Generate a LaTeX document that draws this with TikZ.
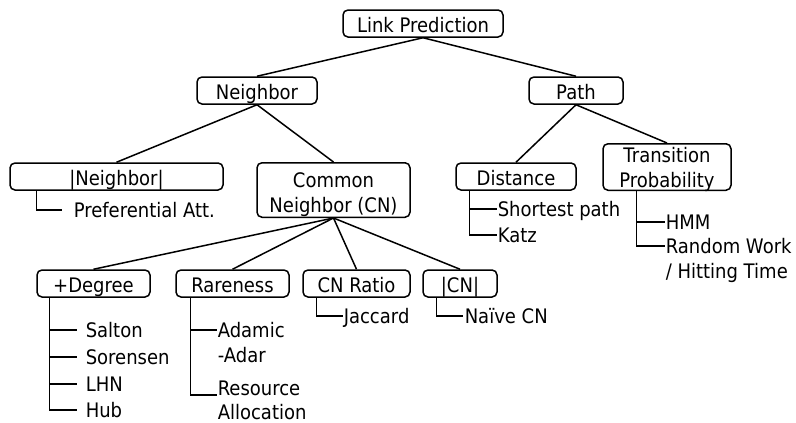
\documentclass[tikz,border=0pt]{standalone}
\usepackage{fontspec}
\setmainfont[FakeStretch=0.9]{DejaVu Sans}
\usepackage{tikz}

\begin{document}
\begin{tikzpicture}[x=1pt,y=-1pt,line width=1.5pt,
		every node/.style={font=\fontsize{20}{25}\selectfont,inner sep=0pt},
		box node/.style={draw,rounded corners=5pt,minimum height=27pt,text height=18pt,text depth=0.4pt},
		two node/.style={draw,rounded corners=5pt,align=center},
		leaf node/.style={anchor=west,text height=14.6pt,text depth=0pt}
		]
		
		\useasboundingbox (0,0) rectangle (796,423);
		
		% boxes
		\node[box node,minimum width=160pt] (lp) at (423,23.5) {Link Prediction};
		\node[box node,minimum width=120pt] (nb) at (257,90.5) {Neighbor};
		\node[box node,minimum width=94pt] (path) at (576,90.5) {Path};
		\node[box node,minimum width=213pt] (absnb) at (116.5,176.5) {|Neighbor|};
		\node[two node,minimum width=153pt,text height=50pt,text depth=4.5pt] (cn) at (333.5,190) {Common\\Neighbor (CN)};
		\node[box node,minimum width=120pt] (dist) at (516,176.5) {Distance};
		\node[two node,minimum width=128pt,text height=44pt,text depth=2.5pt] (tp) at (667,167) {Transition\\Probability};
		\node[box node,minimum width=113pt] (deg) at (93.5,283.5) {+Degree};
		\node[box node,minimum width=113pt] (rare) at (232.5,283.5) {Rareness};
		\node[box node,minimum width=107pt] (ratio) at (356.5,283.5) {CN Ratio};
		\node[box node,minimum width=74pt] (abscn) at (460,283.5) {|CN|};
		
		% leaves
		\node[leaf node] (pref) at (73,210) {Preferential Att.};
		\node[leaf node] (short) at (497,209) {Shortest path};
		\node[leaf node] (katz) at (497,235) {Katz};
		\node[leaf node] (hmm) at (665,222) {HMM};
		\node[leaf node] (rw) at (665,246) {Random Work};
		\node[leaf node] (hit) at (665,271) {/ Hitting Time};
		\node[leaf node] (salton) at (85,330) {Salton};
		\node[leaf node] (sor) at (85,357) {Sorensen};
		\node[leaf node] (lhn) at (85,384) {LHN};
		\node[leaf node] (hub) at (85,410) {Hub};
		\node[leaf node] (adamic) at (217,330) {Adamic};
		\node[leaf node] (adar) at (217,355) {-Adar};
		\node[leaf node] (res) at (217,388) {Resource};
		\node[leaf node] (alloc) at (217,412) {Allocation};
		\node[leaf node] (jac) at (343,316) {Jaccard};
		\node[leaf node] (naive) at (464,316) {Naïve CN};
		
		% tree
		\draw (lp.south) -- (nb.north);
		\draw (lp.south) -- (path.north);
		\draw (nb.south) -- (absnb.north);
		\draw (nb.south) -- (cn.north);
		\draw (path.south) -- (dist.north);
		\draw (path.south) -- (tp.north);
		\foreach \c in {deg,rare,ratio,abscn}
			\draw (cn.south) -- (\c.north);
		
		% lists
		\draw ([xshift=27pt]absnb.south west) |- ([xshift=-11pt]pref.west);
		\foreach \l in {short,katz}
			\draw ([xshift=14pt]dist.south west) |- (\l.west);
		\foreach \l in {hmm,rw}
			\draw ([xshift=34pt]tp.south west) |- (\l.west);
		\foreach \l in {salton,sor,lhn,hub}
			\draw ([xshift=13pt]deg.south west) |- ([xshift=-8pt]\l.west);
		\draw ([xshift=15pt]rare.south west) |- (adamic.west);
		\draw ([xshift=15pt]rare.south west) |- ([yshift=-7pt]res.west);
		\draw ([xshift=14pt]ratio.south west) |- (jac.west);
		\draw ([xshift=14pt]abscn.south west) |- ([xshift=-1pt]naive.west);
		
	\end{tikzpicture}
\end{document}
